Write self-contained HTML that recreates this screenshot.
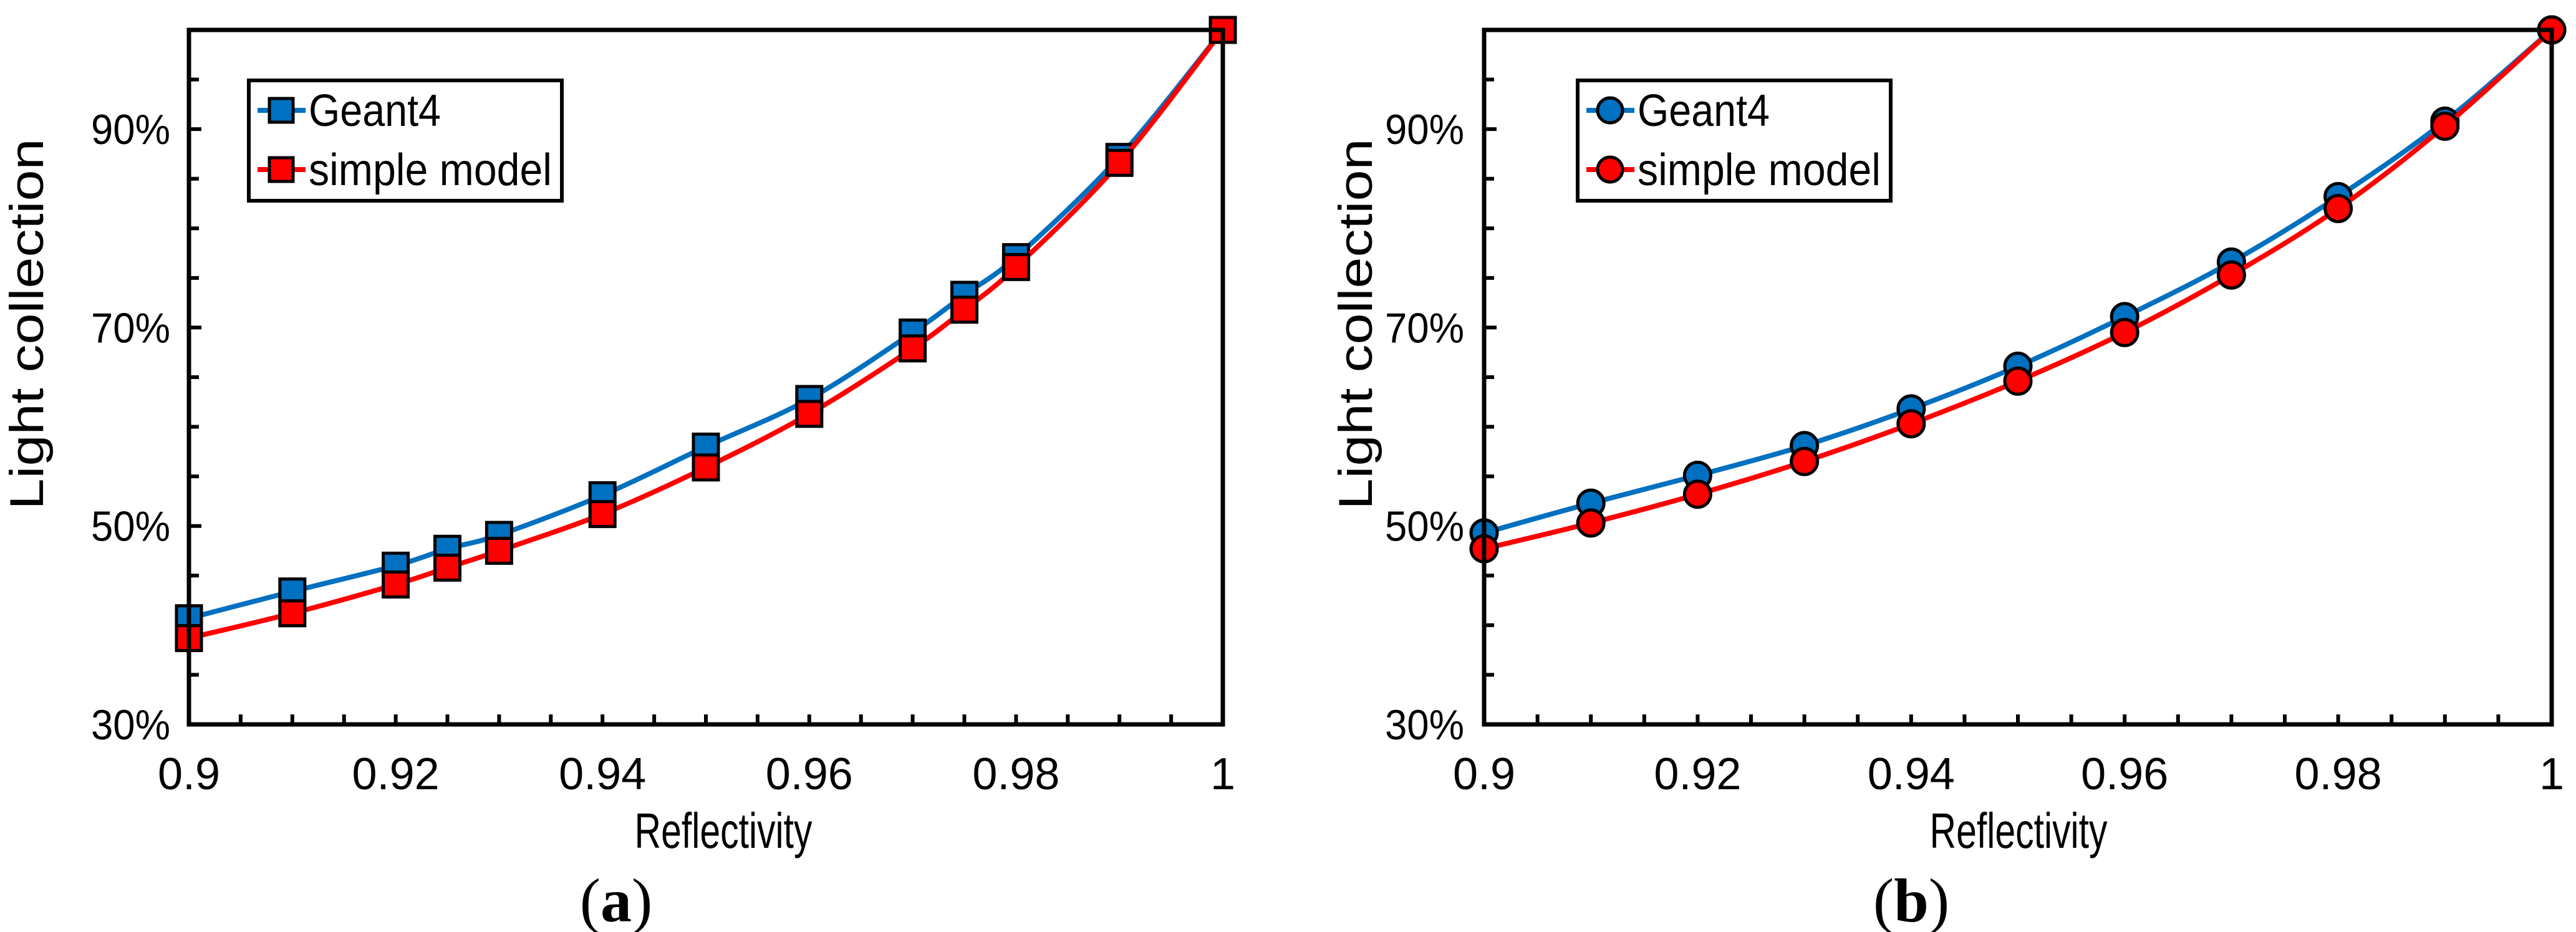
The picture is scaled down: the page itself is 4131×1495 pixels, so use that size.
<!DOCTYPE html>
<html><head><meta charset="utf-8"><style>
html,body{margin:0;padding:0;background:#fff;}
svg{display:block;font-family:"Liberation Sans",Arial,sans-serif;}
</style></head><body>
<svg id="fig" width="4131" height="1495" viewBox="0 0 4131 1495" xmlns="http://www.w3.org/2000/svg"></svg>
<script>
const xA = [0.9,0.91,0.92,0.925,0.93,0.94,0.95,0.96,0.97,0.975,0.98,0.99,1.0];
const geantA = [40.7,43.4,46.0,47.7,49.1,53.1,58.0,62.8,69.5,73.3,77.1,87.2,100];
const simpleA = [38.7,41.2,44.1,45.8,47.5,51.2,55.9,61.3,67.9,71.8,76.1,86.6,100];
const xB = [0.9,0.91,0.92,0.93,0.94,0.95,0.96,0.97,0.98,0.99,1.0];
const geantB = [49.3,52.3,55.1,58.1,61.8,66.1,71.1,76.6,83.2,90.8,100];
const simpleB = [47.7,50.3,53.2,56.5,60.3,64.6,69.5,75.3,82.0,90.3,100];
const xTickLabels = ["0.9","0.92","0.94","0.96","0.98","1"];
const yTickLabels = ["30%","50%","70%","90%"];

const NS="http://www.w3.org/2000/svg";
const svg=document.getElementById('fig');
function el(tag,attrs,parent){const e=document.createElementNS(NS,tag);for(const k in attrs)e.setAttribute(k,attrs[k]);(parent||svg).appendChild(e);return e;}

function smoothPath(pts){
  let d=`M${pts[0][0]},${pts[0][1]}`;
  for(let i=0;i<pts.length-1;i++){
    const p0=pts[Math.max(0,i-1)],p1=pts[i],p2=pts[i+1],p3=pts[Math.min(pts.length-1,i+2)];
    const t=6;
    const c1=[p1[0]+(p2[0]-p0[0])/t,p1[1]+(p2[1]-p0[1])/t];
    const c2=[p2[0]-(p3[0]-p1[0])/t,p2[1]-(p3[1]-p1[1])/t];
    d+=` C${c1[0]},${c1[1]} ${c2[0]},${c2[1]} ${p2[0]},${p2[1]}`;
  }
  return d;
}

function panel(name,L,R,xs,g,s,shape,caption,legOff,labOff,titleOff){
  const T=48,B=1162;
  const grp=el('g',{});
  
  
  const xS=v=>L+(v-0.9)/0.1*(R-L);
  const yS=v=>B-(v-30)/70*(B-T);
  for(let i=1;i<20;i++){
    const x=xS(0.9+i*0.005);
    const t=el('line',{x1:x,x2:x,y1:B,y2:B-16,stroke:'#000','stroke-width':6},grp);
    
    
  }
  for(let i=1;i<14;i++){
    const v=30+i*5,y=yS(v);
    const t=el('line',{x1:L,x2:L+(v%20===10?20:16),y1:y,y2:y,stroke:'#000','stroke-width':6},grp);
    
    
  }
  xTickLabels.forEach(lbl=>{
    const t=el('text',{x:xS(parseFloat(lbl)),y:1266,'font-size':72,'text-anchor':'middle'},grp);
    t.textContent=lbl;
    
    
  });
  yTickLabels.forEach(lbl=>{
    const t=el('text',{x:L-labOff,y:yS(parseFloat(lbl))+24,'font-size':68,'text-anchor':'end',textLength:127,lengthAdjust:'spacingAndGlyphs'},grp);
    t.textContent=lbl;
    
    
  });
  [[g,'#0070C0','geant4'],[s,'#FF0000','simple-model']].forEach(([vals,col,nm])=>{
    const pts=xs.map((x,i)=>[xS(x),yS(vals[i])]);
    const p=el('path',{d:smoothPath(pts),fill:'none',stroke:col,'stroke-width':8},grp);
    
    
    pts.forEach(pt=>{
      let m;
      if(shape==='square') m=el('rect',{x:pt[0]-20,y:pt[1]-20,width:40,height:40,fill:col,stroke:'#000','stroke-width':5},grp);
      else m=el('circle',{cx:pt[0],cy:pt[1],r:21,fill:col,stroke:'#000','stroke-width':5},grp);
      
      
    });
  });
  const f=el('rect',{x:L,y:T,width:R-L,height:B-T,fill:'none',stroke:'#000','stroke-width':7},grp);
  
  
  const lg=el('g',{},grp);
  
  
  const lx=L+legOff;
  el('rect',{x:lx,y:129,width:502,height:193,fill:'#fff',stroke:'#000','stroke-width':6},lg);
  [['Geant4','#0070C0',177],['simple model','#FF0000',272]].forEach(([txt,col,y])=>{
    const e=el('g',{},lg);
    
    
    el('line',{x1:lx+14,x2:lx+91,y1:y,y2:y,stroke:col,'stroke-width':8},e);
    if(shape==='square') el('rect',{x:lx+33,y:y-19,width:38,height:38,fill:col,stroke:'#000','stroke-width':5},e);
    else el('circle',{cx:lx+52,cy:y,r:20,fill:col,stroke:'#000','stroke-width':5},e);
    const t=el('text',{x:lx+96,y:y+25,'font-size':72,textLength:390,lengthAdjust:'spacingAndGlyphs'},e);
    if(txt==='Geant4') t.setAttribute('textLength',212);
    t.textContent=txt;
  });
  const xt=el('text',{x:L+857,y:1360,'font-size':80,'text-anchor':'middle',textLength:285,lengthAdjust:'spacingAndGlyphs'},grp);
  xt.textContent='Reflectivity';
  
  
  const yx=L-titleOff;
  const yt=el('text',{x:0,y:0,'font-size':76,'text-anchor':'middle',transform:`translate(${yx},520) rotate(-90)`,textLength:595,lengthAdjust:'spacingAndGlyphs'},grp);
  yt.textContent='Light collection';
  
  
  const c=el('text',{x:L+685,y:1478,'font-size':100,'text-anchor':'middle','font-family':'"Liberation Serif",serif'},grp);
  
  
  const s1=el('tspan',{},c);s1.textContent='(';
  const s2=el('tspan',{'font-weight':'bold'},c);s2.textContent=caption;
  const s3=el('tspan',{},c);s3.textContent=')';
}
panel('panel-a',303,1961,xA,geantA,simpleA,'square','a',96,30,234);
panel('panel-b',2380,4092,xB,geantB,simpleB,'circle','b',150,32,180);
</script>
</body></html>
